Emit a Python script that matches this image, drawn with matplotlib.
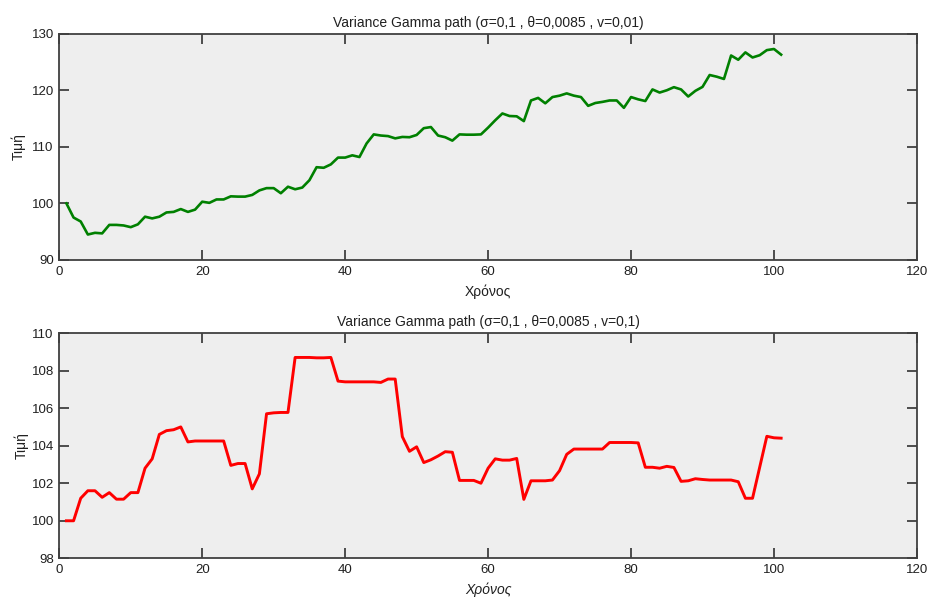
import numpy as np
import matplotlib
matplotlib.use("Agg")
import matplotlib.pyplot as plt

# Two simulated Variance Gamma price paths (101 steps each)
time = np.arange(1, 102)

price_low_v = [
    100.0, 97.5, 96.8, 94.5, 94.8, 94.7, 96.2, 96.2, 96.1, 95.8,
    96.3, 97.65, 97.35, 97.65, 98.4, 98.5, 99.0, 98.5, 98.9, 100.3,
    100.1, 100.7, 100.7, 101.25, 101.2, 101.2, 101.5, 102.3, 102.7, 102.7,
    101.8, 102.95, 102.5, 102.8, 104.1, 106.4, 106.3, 106.9, 108.1, 108.1,
    108.5, 108.2, 110.6, 112.2, 112.0, 111.9, 111.5, 111.75, 111.7, 112.1,
    113.3, 113.5, 112.0, 111.7, 111.1, 112.2, 112.15, 112.15, 112.2, 113.4,
    114.7, 115.9, 115.45, 115.4, 114.55, 118.2, 118.65, 117.7, 118.8, 119.05,
    119.45, 119.05, 118.8, 117.25, 117.75, 117.95, 118.2, 118.2, 116.9, 118.8,
    118.4, 118.1, 120.15, 119.6, 120.0, 120.55, 120.15, 118.9, 119.9, 120.6,
    122.7, 122.4, 122.0, 126.15, 125.4, 126.7, 125.8, 126.2, 127.1, 127.3,
    126.3,
]

price_high_v = [
    100.0, 100.0, 101.2, 101.6, 101.6, 101.25, 101.5, 101.15, 101.15, 101.5,
    101.5, 102.8, 103.3, 104.6, 104.8, 104.85, 105.0, 104.2, 104.25, 104.25,
    104.25, 104.25, 104.25, 102.95, 103.05, 103.05, 101.7, 102.5, 105.7, 105.75,
    105.77, 105.77, 108.7, 108.7, 108.7, 108.68, 108.68, 108.7, 107.44, 107.4,
    107.4, 107.4, 107.4, 107.4, 107.37, 107.55, 107.55, 104.48, 103.7, 103.94,
    103.1, 103.25, 103.45, 103.68, 103.65, 102.15, 102.15, 102.15, 102.0, 102.8,
    103.3, 103.23, 103.23, 103.32, 101.14, 102.13, 102.13, 102.13, 102.17, 102.67,
    103.54, 103.82, 103.82, 103.82, 103.82, 103.82, 104.17, 104.17, 104.17, 104.17,
    104.15, 102.85, 102.85, 102.8, 102.9, 102.84, 102.1, 102.13, 102.24, 102.2,
    102.17, 102.17, 102.17, 102.17, 102.08, 101.2, 101.2, 102.85, 104.5, 104.42,
    104.4,
]

title_low_v = "Variance Gamma path (σ=0,1 , θ=0,0085 , v=0,01)"
title_high_v = "Variance Gamma path (σ=0,1 , θ=0,0085 , v=0,1)"

plt.rcParams["font.family"] = ["Liberation Sans", "DejaVu Sans"]
plt.rcParams["font.size"] = 9.5

fig = plt.figure(figsize=(9.29, 5.99), dpi=100)
ax1 = fig.add_axes([0.0638, 0.566, 0.9232, 0.3777])
ax2 = fig.add_axes([0.0638, 0.0679, 0.9232, 0.3761])


def style_axes(ax, ylim, yticks):
    ax.set_facecolor("#eeeeee")
    ax.set_xlim(0, 120)
    ax.set_ylim(*ylim)
    ax.set_xticks(range(0, 121, 20))
    ax.set_yticks(yticks)
    for s in ax.spines.values():
        s.set_color("#404040")
        s.set_linewidth(1.3)
    ax.tick_params(direction="in", length=7, width=1.1, color="#202020",
                   top=True, right=True, labelsize=9.5, pad=4,
                   labelcolor="#202020")


ax1.plot(time, price_low_v, color="#008000", linewidth=1.9)
style_axes(ax1, (90, 130), range(90, 131, 10))
ax1.set_title(title_low_v, fontsize=10, pad=5, color="#202020")
ax1.set_xlabel("Χρόνος", fontsize=10, labelpad=5, color="#202020")
ax1.set_ylabel("Τιμή", fontsize=10, labelpad=4, color="#202020")

ax2.plot(time, price_high_v, color="#ff0000", linewidth=2.1)
style_axes(ax2, (98, 110), range(98, 111, 2))
ax2.set_title(title_high_v, fontsize=10, pad=5, color="#202020")
ax2.set_xlabel("Χρόνος", fontsize=10, style="italic", labelpad=5,
               color="#202020")
ax2.set_ylabel("Τιμή", fontsize=10, labelpad=2, color="#202020")

fig.savefig("out.png", dpi=100, facecolor="white")
